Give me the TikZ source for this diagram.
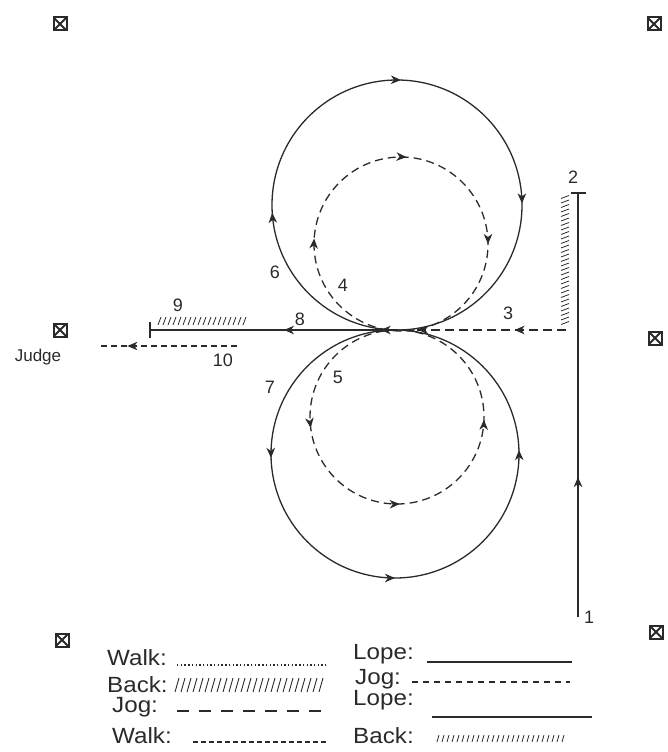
\documentclass[tikz,border=0pt]{standalone}
\usepackage{fontspec}
\setmainfont{Liberation Sans}
\newfontfamily\legfont[FakeStretch=1.1]{Liberation Sans}
\usetikzlibrary{arrows.meta,decorations.markings}
\definecolor{ink}{HTML}{2A2A2A}
\begin{document}
\begin{tikzpicture}[x=1pt,y=-1pt,
  every node/.style={text=ink, inner sep=0pt},
  route/.style={draw=ink, line width=1.3pt},
  jogline/.style={route, dash pattern=on 8pt off 5pt},
  am/.style={postaction={decorate,decoration={markings,mark=at position #1 with {\arrow{Stealth[length=10pt,width=8.5pt,inset=3pt]}}}}},
  num/.style={font=\fontsize{18}{18}\selectfont},
  leg/.style={font=\legfont\fontsize{22}{22}\selectfont, anchor=base west, text depth=0pt},
  marker/.style={draw=ink, line width=2pt, minimum size=13pt, inner sep=0pt,
    path picture={\draw[ink, line width=1.8pt] (path picture bounding box.north west) -- (path picture bounding box.south east) (path picture bounding box.north east) -- (path picture bounding box.south west);}},
  hatch/.style={draw=ink, line width=0.8pt},
]
\useasboundingbox (0,0) rectangle (667,752);

% corner markers
\node[marker] (mTL) at (60,24) {};
\node[marker] (mTR) at (654,24) {};
\node[marker] (mML) at (60,330) {};
\node[marker] (mMR) at (655,338) {};
\node[marker] (mBL) at (62,640) {};
\node[marker] (mBR) at (656,632) {};
\node[font=\fontsize{17}{17}\selectfont] (judge) at (38,357) {Judge};

% key points
\coordinate (p1) at (578,617);
\coordinate (p2) at (578,193);
\coordinate (p2l) at (571,193);
\coordinate (p2r) at (586,193);
\coordinate (s3) at (566,330);
\coordinate (ctr) at (400,330);
\coordinate (s8) at (398,330);
\coordinate (e8) at (150,330);
\coordinate (e8t) at (150,322);
\coordinate (e8b) at (150,338);
\coordinate (s10) at (237,346);
\coordinate (e10) at (100,346);

% circles
\draw[route, am=0.24, am=0.505, am=0.748] (397,330) arc[start angle=90, end angle=450, radius=125];
\draw[jogline, am=0.26, am=0.51, am=0.75] (401,331) arc[start angle=90, end angle=450, radius=87];
\draw[route, am=0.255, am=0.5, am=0.755] (395,330) arc[start angle=270, end angle=-90, radius=124];
\draw[jogline, am=0.27, am=0.505, am=0.745] (397,330) arc[start angle=270, end angle=-90, radius=87];

% 1 -> 2 lope up
\draw[route, am=0.33] (p1) -- (p2);
\draw[route] (p2l) -- (p2r);
\foreach \y in {197,201.5,...,327} \draw[hatch] (561,\y+1.5) -- (569,\y-1.5);

% 3 jog to centre
\draw[route, dash pattern=on 9pt off 5pt, am=0.31, am=0.89] (s3) -- (ctr);

% 8 lope left
\draw[route, am=0.46, am=0.07] (s8) -- (e8);
\draw[route] (e8t) -- (e8b);
\foreach \x in {158,163,...,246} \draw[hatch] (\x,325) -- (\x+3,317);

% 10 walk out
\draw[route, line width=1.1pt, dash pattern=on 6pt off 4pt, am=0.8] (s10) -- (e10);

% labels
\node[num] (l1) at (589,617) {1};
\node[num] (l2) at (573,177) {2};
\node[num] (l3) at (508,313) {3};
\node[num] (l4) at (343,285) {4};
\node[num] (l5) at (338,377) {5};
\node[num] (l6) at (275,272) {6};
\node[num] (l7) at (270,387) {7};
\node[num] (l8) at (300,319) {8};
\node[num] (l9) at (178,305) {9};
\node[num] (l10) at (223,360) {10};

% legend, left column
\node[leg] (kw1) at (107,665) {Walk:};
\coordinate (kw1a) at (177,665); \coordinate (kw1b) at (327,665);
\draw[ink, line width=1.4pt, dash pattern=on 1.4pt off 2.3pt] (kw1a) -- (kw1b);
\node[leg] (kb1) at (107,692) {Back:};
\foreach \x in {175,181,...,322} \draw[ink, line width=0.9pt] (\x,692) -- (\x+4,678);
\node[leg] (kj1) at (112,712) {Jog:};
\coordinate (kj1a) at (177,711); \coordinate (kj1b) at (327,711);
\draw[ink, line width=1.6pt, dash pattern=on 12pt off 10pt] (kj1a) -- (kj1b);
\node[leg] (kw2) at (112,743) {Walk:};
\coordinate (kw2a) at (193,742); \coordinate (kw2b) at (327,742);
\draw[ink, line width=1.3pt, dash pattern=on 5pt off 3pt] (kw2a) -- (kw2b);

% legend, right column
\node[leg] (kl1) at (353,659) {Lope:};
\coordinate (kl1a) at (427,662); \coordinate (kl1b) at (572,662);
\draw[ink, line width=1.4pt] (kl1a) -- (kl1b);
\node[leg] (kj2) at (355,684) {Jog:};
\coordinate (kj2a) at (412,682); \coordinate (kj2b) at (570,682);
\draw[ink, line width=1.2pt, dash pattern=on 6pt off 5pt] (kj2a) -- (kj2b);
\node[leg] (kl2) at (353,705) {Lope:};
\coordinate (kl2a) at (432,717); \coordinate (kl2b) at (592,717);
\draw[ink, line width=1.7pt] (kl2a) -- (kl2b);
\node[leg] (kb2) at (353,743) {Back:};
\foreach \x in {437,442,...,566} \draw[ink, line width=0.8pt] (\x,742) -- (\x+2,735);
\end{tikzpicture}
\end{document}
